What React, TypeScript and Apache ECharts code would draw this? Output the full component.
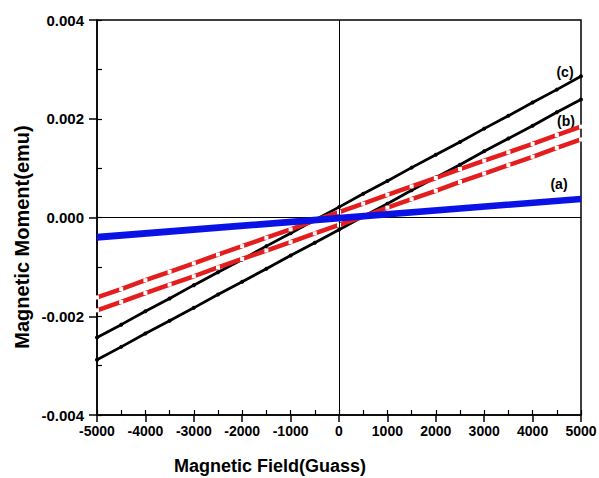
import React, { useEffect, useRef } from "react";
import * as echarts from "echarts";

const fieldValues = [-5000, -4500, -4000, -3500, -3000, -2500, -2000, -1500, -1000, -500, 0, 500, 1000, 1500, 2000, 2500, 3000, 3500, 4000, 4500, 5000];

const cUpper = [-0.00243, -0.00217, -0.0019, -0.00164, -0.00137, -0.00111, -0.00085, -0.00058, -0.00032, -0.00005, 0.00021, 0.00048, 0.00074, 0.00101, 0.00127, 0.00153, 0.0018, 0.00206, 0.00233, 0.00259, 0.00286];
const cLower = [-0.00288, -0.00262, -0.00235, -0.00209, -0.00183, -0.00156, -0.0013, -0.00104, -0.00077, -0.00051, -0.00025, 0.00002, 0.00028, 0.00055, 0.00081, 0.00107, 0.00134, 0.0016, 0.00186, 0.00213, 0.00239];
const bUpper = [-0.00162, -0.00145, -0.00127, -0.0011, -0.00093, -0.00075, -0.00058, -0.00041, -0.00024, -0.00006, 0.00011, 0.00028, 0.00046, 0.00063, 0.0008, 0.00098, 0.00115, 0.00132, 0.00149, 0.00167, 0.00184];
const bLower = [-0.00188, -0.00171, -0.00153, -0.00136, -0.00119, -0.00101, -0.00084, -0.00067, -0.0005, -0.00032, -0.00015, 0.00002, 0.0002, 0.00037, 0.00054, 0.00072, 0.00089, 0.00106, 0.00123, 0.00141, 0.00158];
const aField = [-5000, 0, 5000];
const aUpper = [-0.00037, 0.000015, 0.0004];
const aLower = [-0.00043, -0.00004, 0.00035];

const curveLabels = ["(a)", "(b)", "(c)"];
const xAxisTitle = "Magnetic Field(Guass)";
const yAxisTitle = "Magnetic Moment(emu)";

const pair = (xs: number[], ys: number[]) => xs.map((x, i) => [x, ys[i]]);

export default function App() {
  const ref = useRef<HTMLDivElement>(null);
  useEffect(() => {
    if (!ref.current) return;
    const chart = echarts.init(ref.current, null, { renderer: "svg" });
    const font = "Liberation Sans, Arial, sans-serif";
    const blackSeries = (d: number[]) => ({
      type: "line",
      data: pair(fieldValues, d),
      showSymbol: true,
      symbol: "circle",
      symbolSize: 4,
      itemStyle: { color: "#000" },
      lineStyle: { color: "#000", width: 2.8 },
      z: 3,
    });
    const redSeries = (d: number[]) => ({
      type: "line",
      data: pair(fieldValues, d),
      showSymbol: true,
      symbol: "rect",
      symbolSize: 4,
      itemStyle: { color: "#fff", borderWidth: 0 },
      lineStyle: { color: "#e41e1e", width: 4.5 },
      z: 4,
    });
    const blueSeries = (d: number[]) => ({
      type: "line",
      data: pair(aField, d),
      showSymbol: false,
      lineStyle: { color: "#0a12e6", width: 4 },
      z: 5,
    });
    const axisLabelStyle = { color: "#000", fontFamily: font, fontWeight: "bold" };
    chart.setOption({
      animation: false,
      backgroundColor: "#fff",
      grid: {
        left: 97,
        right: 18,
        top: 20,
        bottom: 63,
        outerBoundsMode: "none",
        containLabel: false,
        show: true,
        borderColor: "#000",
        borderWidth: 1.5,
        backgroundColor: "transparent",
      },
      xAxis: [
        {
          type: "value",
          min: -5000,
          max: 5000,
          interval: 1000,
          position: "bottom",
          axisLine: { lineStyle: { color: "#000", width: 1.5 }, onZero: false },
          axisTick: { show: true, inside: false, length: 7, lineStyle: { color: "#000", width: 1.5 } },
          axisLabel: { ...axisLabelStyle, fontSize: 14, margin: 9, formatter: (v: number) => String(v) },
          splitLine: { show: false },
        },
        {
          type: "value",
          min: -5000,
          max: 5000,
          interval: 500,
          position: "bottom",
          axisLine: { show: false, onZero: false },
          axisTick: { show: true, inside: true, length: 5, lineStyle: { color: "#000", width: 1.2 } },
          axisLabel: { show: false },
          splitLine: { show: false },
        },
      ],
      yAxis: [
        {
          type: "value",
          min: -0.004,
          max: 0.004,
          interval: 0.002,
          position: "left",
          axisLine: { show: true, lineStyle: { color: "#000", width: 1.5 }, onZero: false },
          axisTick: { show: true, inside: false, length: 8, lineStyle: { color: "#000", width: 1.5 } },
          axisLabel: { ...axisLabelStyle, fontSize: 15, margin: 13, formatter: (v: number) => v.toFixed(3) },
          splitLine: { show: false },
        },
        {
          type: "value",
          min: -0.004,
          max: 0.004,
          interval: 0.001,
          position: "left",
          axisLine: { show: false, onZero: false },
          axisTick: { show: true, inside: true, length: 5, lineStyle: { color: "#000", width: 1.2 } },
          axisLabel: { show: false },
          splitLine: { show: false },
        },
      ],
      graphic: [
        {
          type: "text",
          x: 22,
          y: 237,
          rotation: Math.PI / 2,
          style: { text: yAxisTitle, fill: "#000", font: `bold 20px ${font}`, align: "center", verticalAlign: "middle" },
        },
        {
          type: "text",
          x: 270,
          y: 466,
          style: { text: xAxisTitle, fill: "#000", font: `bold 18px ${font}`, align: "center", verticalAlign: "middle" },
        },
        { type: "text", x: 559, y: 184, style: { text: curveLabels[0], fill: "#000", font: `bold 14px ${font}`, align: "center", verticalAlign: "middle" } },
        { type: "text", x: 566, y: 121, style: { text: curveLabels[1], fill: "#000", font: `bold 14px ${font}`, align: "center", verticalAlign: "middle" } },
        { type: "text", x: 565, y: 72, style: { text: curveLabels[2], fill: "#000", font: `bold 14px ${font}`, align: "center", verticalAlign: "middle" } },
      ],
      series: [
        {
          ...blackSeries(cUpper),
          markLine: {
            silent: true,
            symbol: "none",
            label: { show: false },
            lineStyle: { color: "#000", width: 1, type: "solid" },
            data: [{ xAxis: 0 }, { yAxis: 0 }],
          },
        },
        blackSeries(cLower),
        redSeries(bUpper),
        redSeries(bLower),
        blueSeries(aUpper),
        blueSeries(aLower),
      ],
    });
    return () => chart.dispose();
  }, []);
  return <div ref={ref} style={{ position: "fixed", left: 0, top: 0, width: 599, height: 478 }} />;
}
